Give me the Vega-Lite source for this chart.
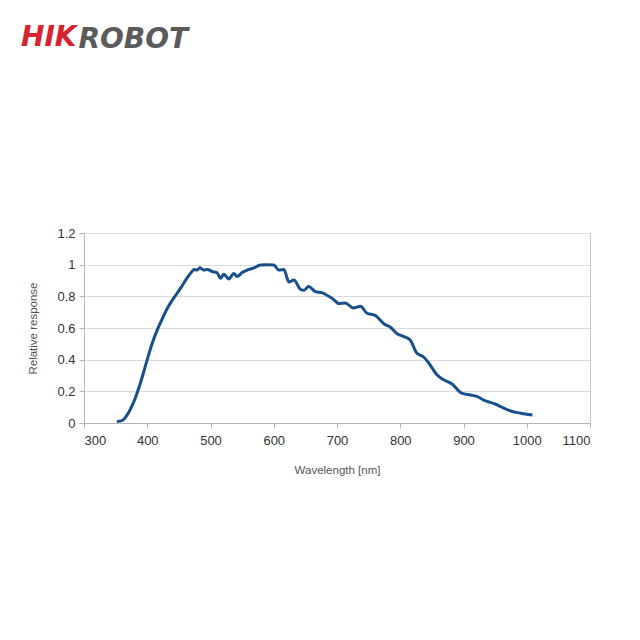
{
  "$schema": "https://vega.github.io/schema/vega-lite/v6.json",
  "width": 506,
  "height": 190,
  "autosize": {"type": "none"},
  "padding": {"left": 84, "top": 233, "right": 50, "bottom": 217},
  "background": "white",
  "title": {
    "text": "HIK",
    "anchor": "start",
    "frame": "group",
    "orient": "top",
    "offset": -27,
    "dx": -63,
    "baseline": "top",
    "font": "DejaVu Sans",
    "fontSize": 28,
    "fontWeight": "bold",
    "fontStyle": "italic",
    "color": "#d7232e"
  },
  "config": {
    "view": {"stroke": "#c8c8c8", "strokeWidth": 1},
    "axis": {
      "labelFont": "Liberation Sans",
      "titleFont": "Liberation Sans",
      "labelColor": "#333333",
      "titleColor": "#555555",
      "titleFontWeight": "normal",
      "domainColor": "#b5b5b5",
      "tickColor": "#b5b5b5",
      "gridColor": "#dadada"
    }
  },
  "data": {
    "values": [
      {"wavelength": 352, "response": 0.01},
      {"wavelength": 360, "response": 0.015},
      {"wavelength": 368, "response": 0.05},
      {"wavelength": 379, "response": 0.137},
      {"wavelength": 389, "response": 0.25},
      {"wavelength": 400, "response": 0.4},
      {"wavelength": 408, "response": 0.505},
      {"wavelength": 416, "response": 0.59},
      {"wavelength": 424, "response": 0.66},
      {"wavelength": 432, "response": 0.726},
      {"wavelength": 442, "response": 0.79},
      {"wavelength": 453, "response": 0.853},
      {"wavelength": 463, "response": 0.916},
      {"wavelength": 471, "response": 0.958},
      {"wavelength": 474, "response": 0.97},
      {"wavelength": 479, "response": 0.966},
      {"wavelength": 483, "response": 0.98},
      {"wavelength": 489, "response": 0.966},
      {"wavelength": 495, "response": 0.97},
      {"wavelength": 503, "response": 0.956},
      {"wavelength": 510, "response": 0.95},
      {"wavelength": 516, "response": 0.914},
      {"wavelength": 521, "response": 0.94},
      {"wavelength": 529, "response": 0.91},
      {"wavelength": 537, "response": 0.945},
      {"wavelength": 542, "response": 0.925},
      {"wavelength": 550, "response": 0.95},
      {"wavelength": 558, "response": 0.966},
      {"wavelength": 568, "response": 0.978},
      {"wavelength": 579, "response": 0.998},
      {"wavelength": 589, "response": 1.0},
      {"wavelength": 600, "response": 0.998},
      {"wavelength": 608, "response": 0.966},
      {"wavelength": 616, "response": 0.97},
      {"wavelength": 624, "response": 0.89},
      {"wavelength": 632, "response": 0.903},
      {"wavelength": 642, "response": 0.845},
      {"wavelength": 648, "response": 0.838},
      {"wavelength": 655, "response": 0.862},
      {"wavelength": 666, "response": 0.83},
      {"wavelength": 676, "response": 0.823},
      {"wavelength": 687, "response": 0.8},
      {"wavelength": 695, "response": 0.779},
      {"wavelength": 703, "response": 0.754},
      {"wavelength": 713, "response": 0.758},
      {"wavelength": 726, "response": 0.726},
      {"wavelength": 737, "response": 0.737},
      {"wavelength": 747, "response": 0.695},
      {"wavelength": 761, "response": 0.678},
      {"wavelength": 774, "response": 0.627},
      {"wavelength": 784, "response": 0.606},
      {"wavelength": 795, "response": 0.564},
      {"wavelength": 805, "response": 0.547},
      {"wavelength": 816, "response": 0.522},
      {"wavelength": 826, "response": 0.442},
      {"wavelength": 837, "response": 0.417},
      {"wavelength": 845, "response": 0.379},
      {"wavelength": 858, "response": 0.305},
      {"wavelength": 868, "response": 0.274},
      {"wavelength": 882, "response": 0.246},
      {"wavelength": 897, "response": 0.189},
      {"wavelength": 911, "response": 0.177},
      {"wavelength": 921, "response": 0.168},
      {"wavelength": 934, "response": 0.141},
      {"wavelength": 950, "response": 0.12},
      {"wavelength": 963, "response": 0.095},
      {"wavelength": 976, "response": 0.074},
      {"wavelength": 989, "response": 0.063},
      {"wavelength": 1009, "response": 0.05}
    ]
  },
  "layer": [
    {
      "mark": {"type": "line", "color": "#17508b", "strokeWidth": 3, "interpolate": "monotone"},
      "encoding": {
        "x": {
          "field": "wavelength",
          "type": "quantitative",
          "scale": {"domain": [300, 1100], "nice": false, "zero": false},
          "axis": {
            "title": "Wavelength [nm]",
            "values": [300, 400, 500, 600, 700, 800, 900, 1000, 1100],
            "format": "d",
            "grid": false,
            "tickSize": 5,
            "labelPadding": 6,
            "labelFontSize": 13,
            "titleFontSize": 11.5,
            "titlePadding": 17
          }
        },
        "y": {
          "field": "response",
          "type": "quantitative",
          "scale": {"domain": [0, 1.2], "nice": false},
          "axis": {
            "title": "Relative response",
            "values": [0, 0.2, 0.4, 0.6, 0.8, 1, 1.2],
            "format": "~g",
            "grid": true,
            "tickSize": 5,
            "labelPadding": 4,
            "labelFontSize": 13,
            "titleFontSize": 11.5,
            "titlePadding": 18
          }
        }
      }
    },
    {
      "mark": {"type": "point", "opacity": 0},
      "encoding": {
        "x": {
          "field": "wavelength",
          "type": "quantitative",
          "axis": {
            "orient": "top",
            "title": "ROBOT",
            "labels": false,
            "ticks": false,
            "domain": false,
            "grid": false,
            "titleX": -6,
            "titleY": -208,
            "titleAlign": "left",
            "titleBaseline": "top",
            "titleAngle": 0,
            "titleFont": "DejaVu Sans",
            "titleFontSize": 28,
            "titleFontWeight": "bold",
            "titleFontStyle": "italic",
            "titleColor": "#5b5b5b"
          }
        }
      }
    }
  ],
  "resolve": {"axis": {"x": "independent"}}
}
